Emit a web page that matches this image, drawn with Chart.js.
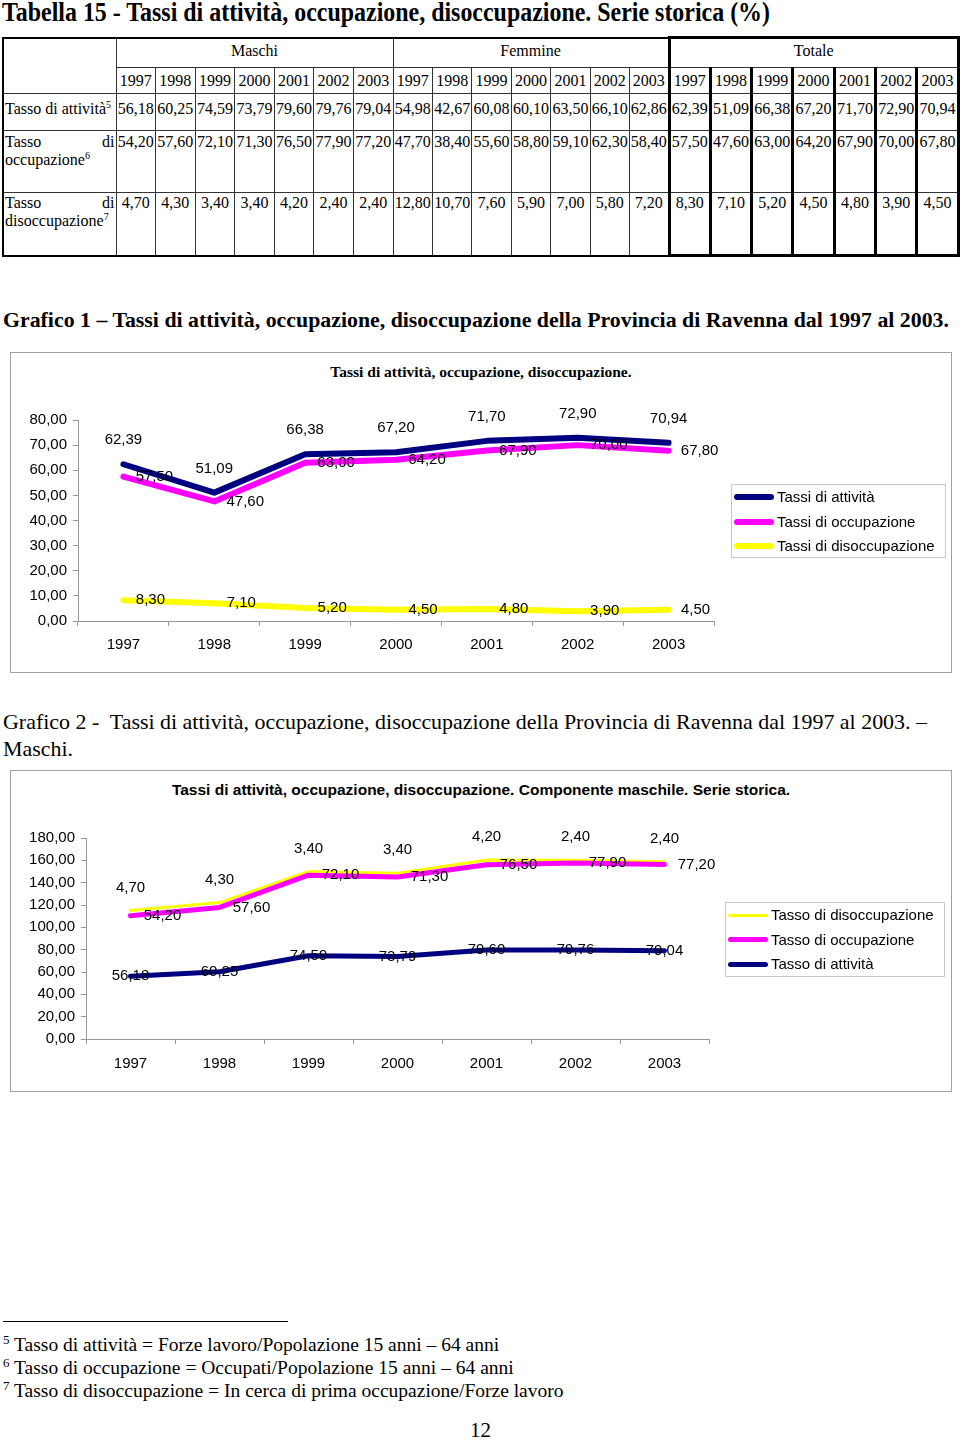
<!DOCTYPE html>
<html lang="it">
<head>
<meta charset="UTF-8" />
<title>Tassi di attività, occupazione, disoccupazione</title>
<script src="https://cdn.jsdelivr.net/npm/chart.js"></script>
<style>
  body { margin: 0; width: 960px; height: 1440px; position: relative; background: #fff; color: #000; font-family: "Liberation Serif", "Times New Roman", serif; overflow: hidden; }
  .abs { position: absolute; }
  .fit { white-space: nowrap; display: inline-block; transform-origin: left top; }
  #titolo { left: 2px; top: -2px; font-size: 28px; line-height: 28px; font-weight: bold; }
  #graf1 { left: 3px; top: 309px; font-size: 22px; line-height: 22px; font-weight: bold; }
  #graf2a { left: 3px; top: 708px; font-size: 21px; line-height: 28px; }
  #graf2b { left: 3px; top: 735px; font-size: 21px; line-height: 28px; }
  table { position: absolute; left: 2px; top: 36px; width: 955px; table-layout: fixed; border-collapse: collapse; font-size: 16px; border: 2px solid #000; }
  td { border: 1px solid #333; padding: 0; text-align: center; vertical-align: top; overflow: hidden; white-space: nowrap; }
  td.nome { text-align: justify; white-space: normal; padding-left: 1px; padding-right: 1px; }
  td.tot { border-left: 3px solid #000; border-right: 3px solid #000; }
  tr.r3 td.tot { border-bottom: 3px solid #000; }
  tr.h1 td.tot { border-top: 3px solid #000; }
  tr.h1 { height: 30px; } tr.h1 td { padding-top: 3px; }
  tr.h2 { height: 26px; } tr.h2 td { vertical-align: middle; }
  tr.r1 { height: 37px; } tr.r1 td { padding-top: 6px; }
  tr.r2 { height: 62px; } tr.r2 td { padding-top: 2px; }
  tr.r3 { height: 63px; } tr.r3 td { padding-top: 1px; }
  sup { font-size: 10px; vertical-align: 6px; line-height: 0; }
  .box { position: absolute; border: 1px solid #a0a0a0; box-sizing: border-box; }
  .ctitle { position: absolute; left: 10px; width: 942px; text-align: center; font-size: 15.5px; font-weight: bold; line-height: 18px; }
  canvas { position: absolute; }
  .legenda { position: absolute; border: 1px solid #c8c8c8; box-sizing: border-box; font-family: "Liberation Sans", Arial, sans-serif; font-size: 15px; }
  .voce { position: absolute; left: 0; height: 24px; line-height: 24px; white-space: nowrap; }
  .voce span.linea { position: absolute; left: 2px; top: 9px; width: 40px; border-radius: 4px; }
  .voce span.testo { position: absolute; left: 45px; top: 0; }
  #rigo { left: 3px; top: 1321px; width: 285px; height: 0; border-top: 1px solid #000; }
  .nota { position: absolute; left: 3px; font-size: 19.5px; line-height: 23px; white-space: nowrap; }
  .nota sup { font-size: 13px; vertical-align: 7px; }
  #pagina { left: 470px; top: 1418px; font-size: 21px; line-height: 24px; }
</style>
</head>
<body>

<div id="titolo" class="abs fit">Tabella 15 - Tassi di attività, occupazione, disoccupazione. Serie storica (%)</div>

<table id="tabella"></table>

<div id="graf1" class="abs fit">Grafico 1 – Tassi di attività, occupazione, disoccupazione della Provincia di Ravenna dal 1997 al 2003.</div>

<div class="box" style="left:10px; top:352px; width:942px; height:321px;"></div>
<div class="ctitle" style="top:363px; font-family:'Liberation Serif','Times New Roman',serif;">Tassi di attività, occupazione, disoccupazione.</div>
<canvas id="chart1" width="942" height="321" style="left:10px; top:352px;"></canvas>
<div class="legenda" id="leg1" style="left:731px; top:484px; width:215px; height:74px;"></div>

<div id="graf2a" class="abs fit">Grafico 2 -&nbsp; Tassi di attività, occupazione, disoccupazione della Provincia di Ravenna dal 1997 al 2003. –</div>
<div id="graf2b" class="abs fit">Maschi.</div>

<div class="box" style="left:10px; top:770px; width:942px; height:322px;"></div>
<div class="ctitle" style="top:781px; font-family:'Liberation Sans',Arial,sans-serif;">Tassi di attività, occupazione, disoccupazione. Componente maschile. Serie storica.</div>
<canvas id="chart2" width="942" height="322" style="left:10px; top:770px;"></canvas>
<div class="legenda" id="leg2" style="left:725px; top:902px; width:220px; height:75px;"></div>

<div id="rigo" class="abs"></div>
<div class="nota" style="top:1333px;"><sup>5</sup> Tasso di attività = Forze lavoro/Popolazione 15 anni – 64 anni</div>
<div class="nota" style="top:1356px;"><sup>6</sup> Tasso di occupazione = Occupati/Popolazione 15 anni – 64 anni</div>
<div class="nota" style="top:1379px;"><sup>7</sup> Tasso di disoccupazione = In cerca di prima occupazione/Forze lavoro</div>
<div id="pagina" class="abs">12</div>

<script>
  const anni = ["1997", "1998", "1999", "2000", "2001", "2002", "2003"];

  const maschiAttivita = [56.18, 60.25, 74.59, 73.79, 79.60, 79.76, 79.04];
  const maschiOccupazione = [54.20, 57.60, 72.10, 71.30, 76.50, 77.90, 77.20];
  const maschiDisoccupazione = [4.70, 4.30, 3.40, 3.40, 4.20, 2.40, 2.40];

  const femmineAttivita = [54.98, 42.67, 60.08, 60.10, 63.50, 66.10, 62.86];
  const femmineOccupazione = [47.70, 38.40, 55.60, 58.80, 59.10, 62.30, 58.40];
  const femmineDisoccupazione = [12.80, 10.70, 7.60, 5.90, 7.00, 5.80, 7.20];

  const totaleAttivita = [62.39, 51.09, 66.38, 67.20, 71.70, 72.90, 70.94];
  const totaleOccupazione = [57.50, 47.60, 63.00, 64.20, 67.90, 70.00, 67.80];
  const totaleDisoccupazione = [8.30, 7.10, 5.20, 4.50, 4.80, 3.90, 4.50];

  const gruppi = ["Maschi", "Femmine", "Totale"];
  const righe = [
    { nome: "Tasso di attività<sup>5</sup>", valori: [maschiAttivita, femmineAttivita, totaleAttivita] },
    { nome: "Tasso di occupazione<sup>6</sup>", valori: [maschiOccupazione, femmineOccupazione, totaleOccupazione] },
    { nome: "Tasso di disoccupazione<sup>7</sup>", valori: [maschiDisoccupazione, femmineDisoccupazione, totaleDisoccupazione] }
  ];

  const BLU = "#000080", ROSA = "#ff00ff", GIALLO = "#ffff00";

  const fmt = v => v.toFixed(2).replace(".", ",");

  // tabella
  function tabella() {
    let h = '<colgroup><col style="width:113px">';
    [39.57, 39.43, 41.3].forEach(w => { for (let i = 0; i < 7; i++) h += `<col style="width:${w}px">`; });
    h += '</colgroup>';
    h += '<tr class="h1"><td rowspan="2"></td>';
    gruppi.forEach((g, k) => h += `<td colspan="7"${k === 2 ? ' class="tot"' : ''}>${g}</td>`);
    h += '</tr><tr class="h2">';
    gruppi.forEach((g, k) => anni.forEach(a => h += `<td${k === 2 ? ' class="tot"' : ''}>${a}</td>`));
    h += '</tr>';
    righe.forEach((r, i) => {
      h += `<tr class="r${i + 1}"><td class="nome">${r.nome}</td>`;
      r.valori.forEach((serie, k) => serie.forEach(v => h += `<td${k === 2 ? ' class="tot"' : ''}>${fmt(v)}</td>`));
      h += '</tr>';
    });
    document.getElementById("tabella").innerHTML = h;
  }

  function fit(id, w) {
    const el = document.getElementById(id);
    const r = el.getBoundingClientRect().width;
    el.style.transform = `scaleX(${w / r})`;
    return w / r;
  }

  // etichette sui punti
  const etichette = {
    id: "etichette",
    afterDatasetsDraw(chart) {
      const ctx = chart.ctx;
      ctx.save();
      ctx.font = '15px "Liberation Sans", Arial, sans-serif';
      ctx.fillStyle = "#000";
      ctx.textAlign = "center";
      ctx.textBaseline = "middle";
      chart.data.datasets.forEach((ds, i) => {
        chart.getDatasetMeta(i).data.forEach((pt, j) => {
          ctx.fillText(fmt(ds.data[j]), pt.x + ds.etDx, pt.y + ds.etDy);
        });
      });
      ctx.restore();
    }
  };

  function opzioni(max, step, largY, altX, destra) {
    return {
      responsive: false,
      animation: false,
      layout: { padding: { left: 0, top: 68, right: destra, bottom: 0 } },
      plugins: { legend: { display: false }, tooltip: { enabled: false } },
      elements: { point: { radius: 0 }, line: { tension: 0, borderCapStyle: "round", borderJoinStyle: "round" } },
      scales: {
        x: {
          offset: true,
          grid: { offset: true, drawOnChartArea: false, tickLength: 5, color: "#999" },
          border: { color: "#999" },
          ticks: { padding: 10, color: "#000", maxRotation: 0 },
          afterFit(s) { s.height = altX; }
        },
        y: {
          min: 0, max: max,
          grid: { drawOnChartArea: false, tickLength: 5, color: "#999" },
          border: { color: "#999" },
          ticks: { stepSize: step, padding: 6, color: "#000", callback: v => fmt(v) },
          afterFit(s) { s.width = largY; }
        }
      }
    };
  }

  function legenda(id, chart, ordine) {
    const el = document.getElementById(id);
    let h = "";
    ordine.forEach((i, k) => {
      const ds = chart.data.datasets[i];
      const spessore = ds.borderWidth;
      h += `<div class="voce" style="top:${k * 24.5}px"><span class="linea" style="background:${ds.borderColor}; height:${spessore}px; top:${12 - spessore / 2}px"></span><span class="testo">${ds.label}</span></div>`;
    });
    el.innerHTML = h;
  }

  Chart.defaults.font.family = '"Liberation Sans", Arial, sans-serif';
  Chart.defaults.font.size = 15;
  Chart.defaults.color = "#000";

  tabella();
  fit("titolo", 768);
  fit("graf1", 946);
  const sc = fit("graf2a", 924);
  document.getElementById("graf2b").style.transform = `scaleX(${sc})`;

  const chart1 = new Chart(document.getElementById("chart1"), {
    type: "line",
    data: {
      labels: anni,
      datasets: [
        { label: "Tassi di attività", data: totaleAttivita, borderColor: BLU, borderWidth: 6, etDx: 0, etDy: -24 },
        { label: "Tassi di occupazione", data: totaleOccupazione, borderColor: ROSA, borderWidth: 6, etDx: 31, etDy: 0 },
        { label: "Tassi di disoccupazione", data: totaleDisoccupazione, borderColor: GIALLO, borderWidth: 6, etDx: 27, etDy: 0 }
      ]
    },
    options: opzioni(80, 10, 68, 52, 238),
    plugins: [etichette]
  });
  legenda("leg1", chart1, [0, 1, 2]);

  const opz2 = opzioni(180, 20, 76, 53, 243);
  opz2.scales.y.stacked = true;
  opz2.scales.x.ticks.padding = 11;
  const chart2 = new Chart(document.getElementById("chart2"), {
    type: "line",
    data: {
      labels: anni,
      datasets: [
        { label: "Tasso di attività", data: maschiAttivita, borderColor: BLU, borderWidth: 5, etDx: 0, etDy: 0 },
        { label: "Tasso di occupazione", data: maschiOccupazione, borderColor: ROSA, borderWidth: 5, etDx: 32, etDy: 0 },
        { label: "Tasso di disoccupazione", data: maschiDisoccupazione, borderColor: GIALLO, borderWidth: 3, etDx: 0, etDy: -23 }
      ]
    },
    options: opz2,
    plugins: [etichette]
  });
  legenda("leg2", chart2, [2, 1, 0]);
</script>
</body>
</html>
